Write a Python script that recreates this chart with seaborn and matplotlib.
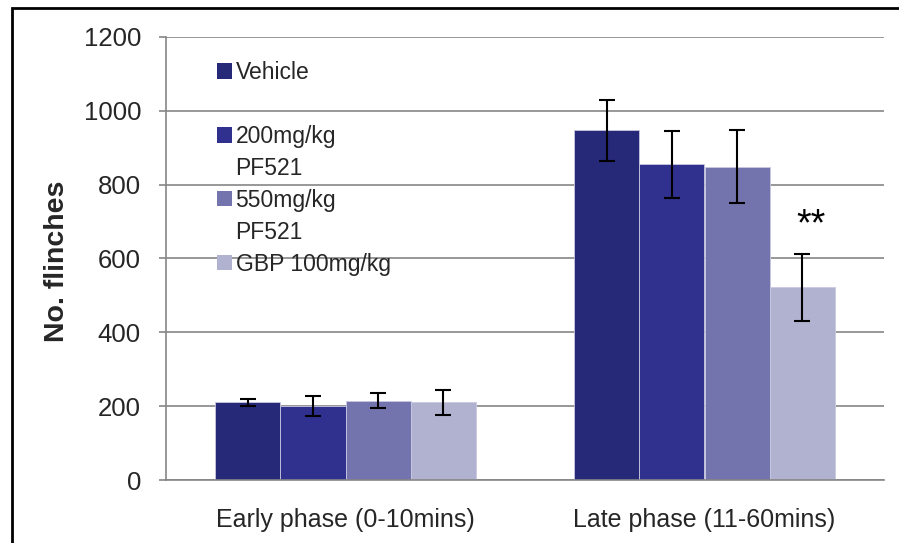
import matplotlib
matplotlib.use("Agg")
import matplotlib.pyplot as plt
from matplotlib.patches import Patch, Rectangle
import pandas as pd
import seaborn as sns

# ==============================================================================: DATA
phases = ["Early phase (0-10mins)", "Late phase (11-60mins)"]
groups = ["Vehicle", "200mg/kg\nPF521", "550mg/kg\nPF521", "GBP 100mg/kg"]
colors = ["#262878", "#30318e", "#7373ad", "#b1b2cf"]

early_means = [210, 200, 215, 210]
early_err = [10, 27, 20, 34]
late_means = [947, 855, 849, 522]
late_err = [82, 90, 100, 90]

yticks = [0, 200, 400, 600, 800, 1000, 1200]
signif_label = "**"
signif_y = 705


def get_data():
    rows = []
    for phase, means, errs in [(phases[0], early_means, early_err), (phases[1], late_means, late_err)]:
        for g, m, e in zip(groups, means, errs):
            rows.append({"phase": phase, "group": g, "mean": m, "err": e})
    return pd.DataFrame(rows)


# ==============================================================================: PLOT
def plot(df):
    sns.set_style("white")
    plt.rcParams["font.family"] = ["Liberation Sans", "DejaVu Sans"]

    fig = plt.figure(figsize=(8.99, 5.43), dpi=100)
    W, H = 899, 543
    ax = fig.add_axes([166 / W, (H - 480) / H, 718 / W, (480 - 37) / H])

    sns.barplot(data=df, x="phase", y="mean", hue="group", order=phases,
                hue_order=groups, palette=colors, saturation=1, errorbar=None, width=0.727,
                edgecolor="#c8c8e0", linewidth=0.6, legend=False, ax=ax, zorder=2)

    # error bars on the bar centres seaborn placed
    bars = [p for p in ax.patches if p.get_height() > 0]
    bars.sort(key=lambda p: p.get_x())
    errs = early_err + late_err
    for p, e in zip(bars, errs):
        cx = p.get_x() + p.get_width() / 2
        ax.errorbar(cx, p.get_height(), yerr=e, fmt="none", ecolor="black",
                    elinewidth=1.5, capsize=6, capthick=1.5, zorder=3)

    # significance marker over the GBP late bar
    gbp_late = bars[-1]
    ax.text(gbp_late.get_x() + gbp_late.get_width() / 2 + 0.025, signif_y - 15, signif_label,
            ha="center", va="center", fontsize=27, color="black")

    ax.set_ylim(0, 1200)
    ax.set_xlim(-0.5, 1.5)
    ax.set_yticks(yticks)
    ax.set_yticklabels([str(t) for t in yticks], fontsize=18.5)
    ax.set_xticks([0, 1])
    ax.set_xticklabels(phases, fontsize=18)
    ax.set_xticks([-0.5, 0.5, 1.5], minor=True)
    ax.tick_params(axis="x", which="major", length=0, pad=20)
    ax.tick_params(axis="x", which="minor", length=7, width=1.2, color="#868686")
    ax.tick_params(axis="y", length=5, width=1.2, color="#868686", pad=13, left=True)
    ax.yaxis.grid(True, color="#868686", linewidth=1.2, zorder=0)
    ax.set_axisbelow(True)
    for side in ["top", "right"]:
        ax.spines[side].set_visible(False)
    for side in ["left", "bottom"]:
        ax.spines[side].set_color("#868686")
        ax.spines[side].set_linewidth(1.2)
    ax.set_xlabel("")
    ax.set_ylabel("No. flinches", fontsize=20.5, fontweight="bold")
    ax.yaxis.set_label_coords(-(166 - 70) / 718, (480 - 261) / 443)

    # legend, one row per text line (continuation lines carry no swatch)
    handles, labels = [], []
    for i, (g, c) in enumerate(zip(groups, colors)):
        lines = g.split("\n")
        handles.append(Patch(facecolor=c, edgecolor="none"))
        labels.append(lines[0])
        for extra in lines[1:]:
            handles.append(Patch(facecolor="none", edgecolor="none"))
            labels.append(extra)
        if i == 0:
            handles.append(Patch(facecolor="none", edgecolor="none"))
            labels.append("")
    ax.legend(handles, labels, loc="upper left", bbox_to_anchor=(51 / 718, 1 - 24 / 443),
              frameon=False, fontsize=16.5, handlelength=0.66, handleheight=0.66,
              handletextpad=0.15, labelspacing=0.39, borderpad=0, borderaxespad=0)

    # outer chart border
    fig.patches.append(Rectangle((12 / W, -0.05), 1.1, (H - 8) / H + 0.05, transform=fig.transFigure,
                                 fill=False, edgecolor="black", linewidth=2))

    fig.savefig("out.png", dpi=100)


# ==============================================================================: MAIN
def main():
    df = get_data()
    plot(df)


if __name__ == "__main__":
    main()
